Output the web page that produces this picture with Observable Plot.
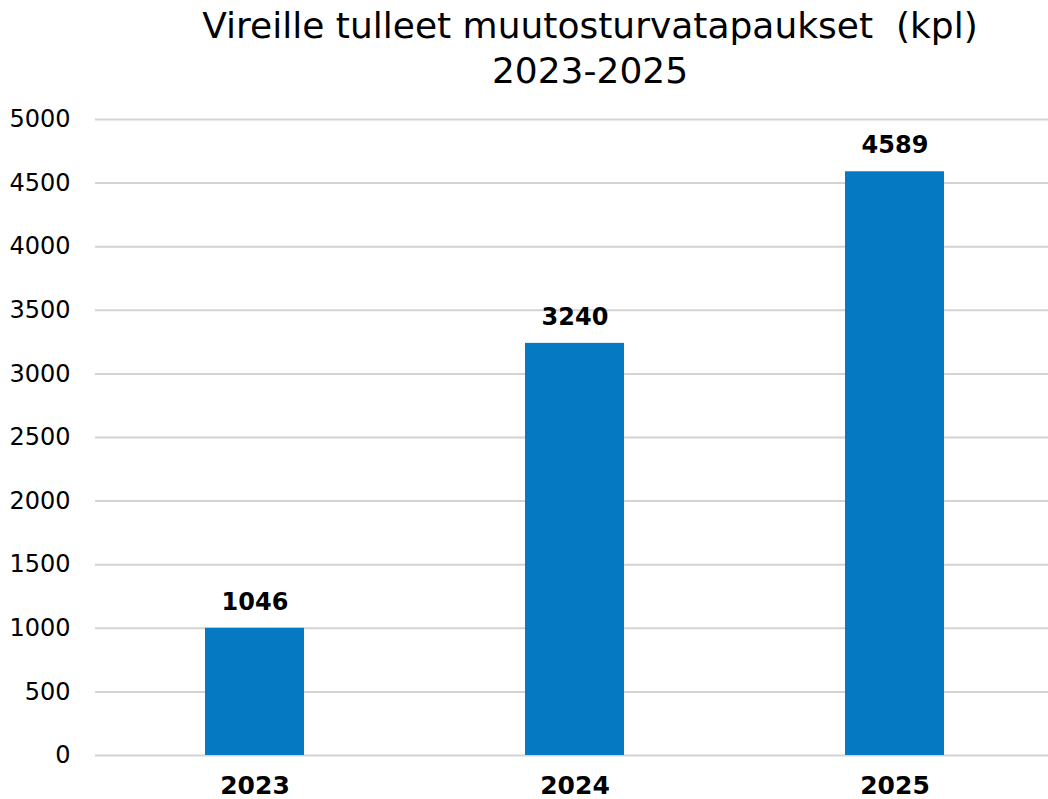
<!DOCTYPE html>
<html>
<head>
<meta charset="utf-8">
<script src="https://cdn.jsdelivr.net/npm/d3@7"></script>
<script src="https://cdn.jsdelivr.net/npm/@observablehq/plot@0.6"></script>
<style>
  html, body { margin: 0; padding: 0; background: #fff; overflow: hidden; }
  #title {
    width: 1048px; height: 100px; box-sizing: border-box;
    padding-left: 132px; padding-top: 3px;
    text-align: center;
    font-family: "DejaVu Sans", sans-serif;
    font-size: 36px; line-height: 45px; color: #000;
    white-space: nowrap;
  }
  #chart svg { display: block; }
</style>
</head>
<body>
<div id="title">Vireille tulleet muutosturvatapaukset&nbsp; (kpl)<br>2023-2025</div>
<div id="chart"></div>
<script>
const years = ["2023", "2024", "2025"];
const labels = [1046, 3240, 4589];        // printed value labels
const barHeights = [1000, 3240, 4589];    // bar heights as drawn in the picture
const yTicks = [0, 500, 1000, 1500, 2000, 2500, 3000, 3500, 4000, 4500, 5000];

const data = years.map((y, i) => ({year: y, height: barHeights[i], label: String(labels[i])}));

const chart = Plot.plot({
  width: 1048,
  height: 699,
  marginTop: 19,
  marginBottom: 44,
  marginLeft: 95,
  marginRight: 0,
  style: {background: "#fff", color: "#000", overflow: "visible"},
  x: {
    type: "band", domain: years,
    range: [93.25, 1054.75],
    paddingInner: 0.691, paddingOuter: 0.3455,
    label: null
  },
  y: {domain: [0, 5000], ticks: yTicks, label: null},
  marks: [
    Plot.ruleY(yTicks, {stroke: "#d3d3d3", strokeWidth: 2}),
    Plot.barY(data, {x: "year", y: "height", fill: "#0579c1"}),
    Plot.text(data, {
      x: "year", y: "height", text: "label",
      dy: -26, fontSize: 24, fontWeight: "bold",
      fontFamily: "DejaVu Sans", fill: "#000"
    }),
    Plot.axisY({
      ticks: yTicks, tickSize: 0, tickPadding: 25,
      fontSize: 24, fontFamily: "DejaVu Sans", label: null,
      tickFormat: d => String(d)
    }),
    Plot.axisX({
      tickSize: 0, tickPadding: 21,
      fontSize: 25, fontWeight: "bold", fontFamily: "DejaVu Sans", label: null
    })
  ]
});
document.getElementById("chart").appendChild(chart);
</script>
</body>
</html>
